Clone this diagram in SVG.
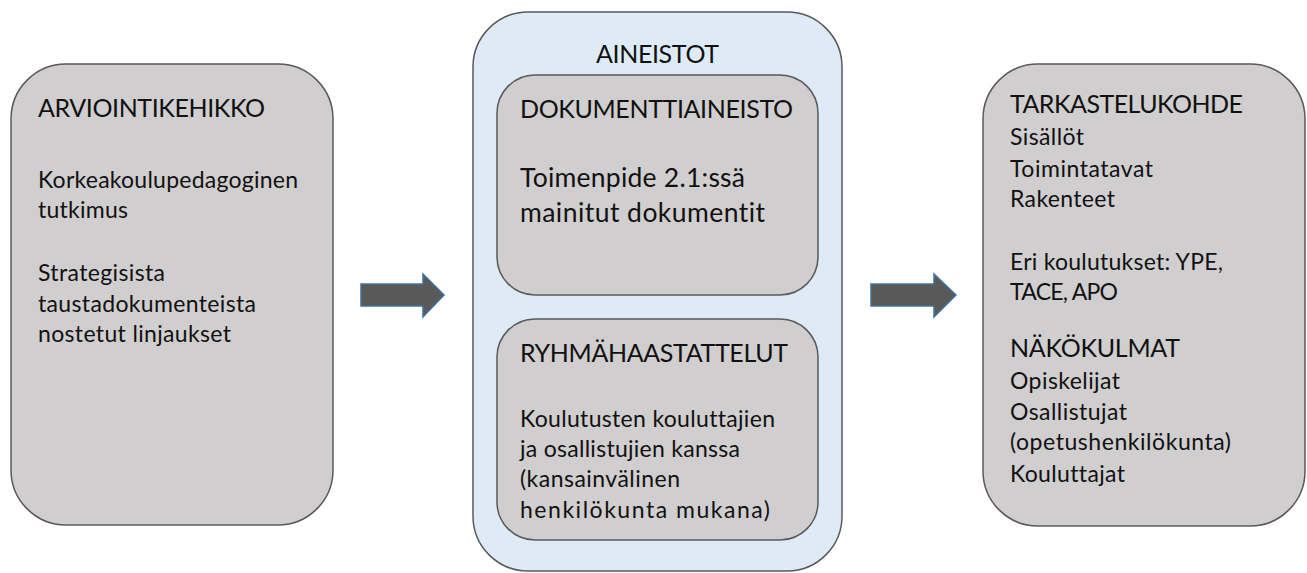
<svg xmlns="http://www.w3.org/2000/svg" width="1307" height="573" viewBox="0 0 1307 573">
<style>
.box{fill:#d0cece;stroke:#595959;stroke-width:1.5}
.outer{fill:#deebf7;stroke:#595959;stroke-width:1.5}
.arrow{fill:#595959;stroke:#41719c;stroke-width:1.5}
text{font-family:Lato,"Open Sans","Liberation Sans",sans-serif;fill:#111111;font-variant-ligatures:none}
.t{font-size:25px}
.b{font-size:23px}
.m{font-size:26.5px}
</style>
<rect width="1307" height="573" fill="#ffffff"/>
<g id="arviointikehikko">
<rect class="box" x="11" y="64" width="322" height="461" rx="55"/>
<text class="t" x="38" y="117" textLength="227">ARVIOINTIKEHIKKO</text>
<text class="b" x="38" y="188" textLength="260">Korkeakoulupedagoginen</text>
<text class="b" x="38" y="218" textLength="90">tutkimus</text>
<text class="b" x="38" y="281" textLength="127">Strategisista</text>
<text class="b" x="38" y="312" textLength="218">taustadokumenteista</text>
<text class="b" x="38" y="342" textLength="193">nostetut linjaukset</text>
</g>
<g id="aineistot">
<rect class="outer" x="473" y="12" width="369" height="559" rx="55"/>
<text class="t" x="596" y="63" textLength="123">AINEISTOT</text>
</g>
<g id="dokumenttiaineisto">
<rect class="box" x="497" y="75" width="321" height="220" rx="38"/>
<text class="t" x="520" y="118" textLength="273">DOKUMENTTIAINEISTO</text>
<text class="m" x="520" y="187" textLength="225">Toimenpide 2.1:ssä</text>
<text class="m" x="520" y="222" textLength="245">mainitut dokumentit</text>
</g>
<g id="ryhmahaastattelut">
<rect class="box" x="497" y="319" width="321" height="221" rx="38"/>
<text class="t" x="520" y="362" textLength="268">RYHMÄHAASTATTELUT</text>
<text class="b" x="520" y="427" textLength="255">Koulutusten kouluttajien</text>
<text class="b" x="520" y="457" textLength="220">ja osallistujien kanssa</text>
<text class="b" x="520" y="487" textLength="160">(kansainvälinen</text>
<text class="b" x="520" y="518" textLength="250">henkilökunta mukana)</text>
</g>
<g id="tarkastelukohde">
<rect class="box" x="983" y="64" width="322" height="462" rx="55"/>
<text class="t" x="1010" y="113" textLength="233">TARKASTELUKOHDE</text>
<text class="b" x="1010" y="145" textLength="74">Sisällöt</text>
<text class="b" x="1010" y="177" textLength="143">Toimintatavat</text>
<text class="b" x="1010" y="207" textLength="105">Rakenteet</text>
<text class="b" x="1010" y="270" textLength="213">Eri koulutukset: YPE,</text>
<text class="b" x="1010" y="300" textLength="108">TACE, APO</text>
<text class="t" x="1010" y="357" textLength="170">NÄKÖKULMAT</text>
<text class="b" x="1010" y="389" textLength="110">Opiskelijat</text>
<text class="b" x="1010" y="420" textLength="117">Osallistujat</text>
<text class="b" x="1010" y="450" textLength="221">(opetushenkilökunta)</text>
<text class="b" x="1010" y="482" textLength="115">Kouluttajat</text>
</g>
<g id="connectors">
<polygon class="arrow" points="361,284 423,284 423,274 444,295 423,317 423,306 361,306"/>
<polygon class="arrow" points="871,284 934,284 934,274 956,295 934,317 934,306 871,306"/>
</g>
</svg>
